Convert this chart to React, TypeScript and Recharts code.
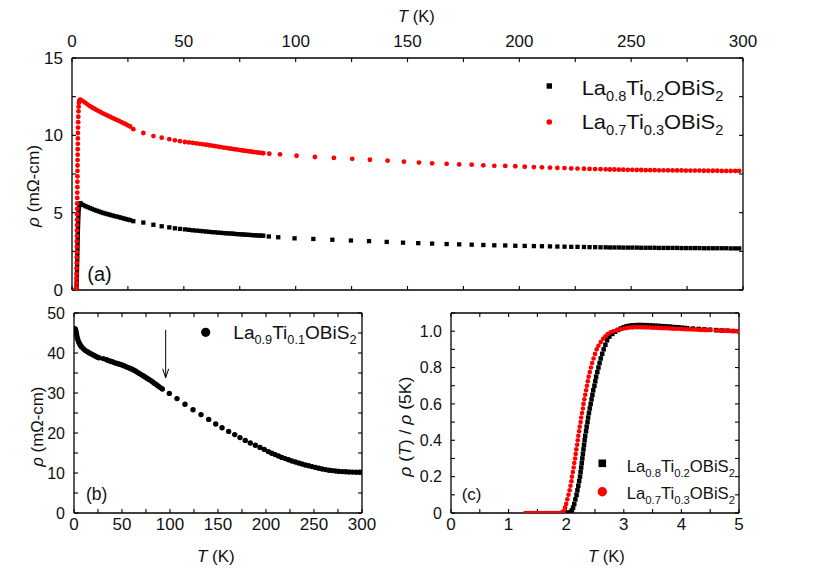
import React from 'react';
import { ScatterChart, Scatter, XAxis, YAxis, ReferenceLine, ReferenceDot, Legend } from 'recharts';

const FONT = '"Liberation Sans", Arial, Helvetica, sans-serif';
const INK = '#111';
const RED = '#ff0000';

// ---------- Panel (a): rho (mOhm-cm) vs T (K) ----------
const rhoA_La08Ti02: number[][] = [
  [2.0,0],[2.05,0.2],[2.1,0.45],[2.14,0.7],[2.18,0.95],[2.22,1.2],[2.26,1.45],[2.3,1.7],[2.34,1.95],[2.38,2.2],[2.42,2.45],[2.46,2.7],[2.5,2.95],[2.54,3.2],[2.58,3.45],[2.62,3.7],[2.67,3.95],[2.72,4.2],[2.78,4.45],[2.85,4.7],[2.93,4.95],[3.03,5.2],[3.15,5.4],[3.4,5.55],[3.7,5.6],
  [4,5.58],[5,5.5],[6,5.42],[7,5.36],[8,5.3],[9,5.24],[10,5.18],[11,5.13],[12,5.08],[13,5.03],[14,4.98],[15,4.94],[16,4.9],[17,4.86],[18,4.82],[19,4.78],[20,4.75],[21,4.71],[22,4.67],[23,4.63],[24,4.59],[25,4.55],[26,4.52],
  [27.4,4.45],[31.9,4.36],[36.4,4.22],[40.1,4.12],[43.5,4.05],[46,3.99],[48.3,3.95],[50.5,3.92],
  [52.3,3.89],[54,3.86],[55.6,3.84],[57.1,3.82],[58.6,3.8],[60,3.78],[61.4,3.76],[62.7,3.74],[64,3.73],[65.3,3.71],[66.5,3.7],[67.7,3.68],[68.9,3.67],[70,3.66],[71.1,3.65],[72.2,3.64],[73.3,3.62],[74.4,3.61],[75.5,3.6],[76.5,3.59],[77.5,3.58],[78.5,3.57],[79.5,3.56],[80.5,3.55],[81.5,3.54],[82.5,3.53],[83.5,3.52],[84.5,3.52],[85.5,3.51],
  [88,3.46],[92.2,3.41],[99.5,3.34],[107.9,3.3],[116.4,3.25],[124.7,3.2],[132.8,3.16],[140.7,3.11],[148,3.06],[154.8,3.03],[161,3.0],[167.5,2.97],[173.1,2.95],[178.7,2.93],[183.9,2.91],[188.8,2.89],[193.7,2.88],[198.2,2.86],[202.4,2.85],[206.5,2.84],[210.1,2.83],[213.7,2.82],[217,2.81],[220.2,2.8],[223.2,2.79],[226,2.79],[228.9,2.78],[231.4,2.77],[233.9,2.77],[236.3,2.76],[238.6,2.76],
  [240.5,2.75],[242.5,2.75],[244.5,2.75],[246.5,2.74],[248.5,2.74],[250.5,2.74],[252.5,2.74],[254.5,2.73],[256.5,2.73],[258.5,2.73],[260.5,2.73],[262.5,2.72],[264.5,2.72],[266.5,2.72],[268.5,2.72],[270.5,2.72],[272.5,2.71],[274.5,2.71],[276.5,2.71],[278.5,2.71],[280.5,2.71],[282.5,2.7],[284.5,2.7],[286.5,2.7],[288.5,2.7],[290.5,2.7],[292.5,2.7],[294.5,2.69],[296.5,2.69],[298.3,2.69],
];

const rhoA_La07Ti03: number[][] = [
  [1.3,0],[1.45,0],[1.6,0],[1.75,0],[1.9,0],[1.98,0.15],[2.02,0.45],[2.05,0.75],[2.07,1.05],[2.09,1.4],[2.11,1.75],[2.13,2.1],[2.15,2.45],[2.17,2.8],[2.19,3.15],[2.21,3.5],[2.23,3.85],[2.25,4.2],[2.27,4.55],[2.29,4.9],[2.31,5.25],[2.33,5.6],[2.35,5.95],[2.37,6.3],[2.39,6.65],[2.41,7.0],[2.43,7.35],[2.45,7.7],[2.47,8.05],[2.5,8.4],[2.53,8.75],[2.56,9.1],[2.59,9.45],[2.62,9.8],[2.66,10.15],[2.7,10.5],[2.75,10.85],[2.81,11.2],[2.88,11.55],[2.97,11.85],[3.1,12.1],[3.3,12.25],[3.6,12.3],
  [4,12.28],[5,12.2],[6,12.1],[7,11.99],[8,11.89],[9,11.8],[10,11.72],[11,11.64],[12,11.56],[13,11.48],[14,11.41],[15,11.34],[16,11.27],[17,11.2],[18,11.13],[19,11.06],[20,11.0],[21,10.93],[22,10.86],[23,10.79],[24,10.72],[25,10.64],[26,10.57],
  [27.4,10.4],[31.9,10.15],[36.4,9.95],[40.1,9.85],[43.5,9.75],[46,9.68],[48.3,9.62],[50.5,9.57],
  [52.3,9.54],[54,9.51],[55.6,9.48],[57.1,9.45],[58.6,9.42],[60,9.39],[61.4,9.36],[62.7,9.33],[64,9.3],[65.3,9.27],[66.5,9.24],[67.7,9.21],[68.9,9.19],[70,9.16],[71.1,9.14],[72.2,9.11],[73.3,9.09],[74.4,9.06],[75.5,9.04],[76.5,9.02],[77.5,9.0],[78.5,8.98],[79.5,8.96],[80.5,8.94],[81.5,8.92],[82.5,8.9],[83.5,8.88],[84.5,8.86],[85.5,8.84],
  [88.2,8.81],[93,8.77],[100.4,8.68],[108.6,8.6],[117.1,8.54],[125.3,8.48],[133.2,8.42],[141.1,8.36],[148.4,8.3],[155.1,8.24],[161,8.19],[167.5,8.16],[173.1,8.12],[178.7,8.1],[183.9,8.06],[188.8,8.03],[193.7,8.02],[198.2,8.0],[202.4,7.97],[206.5,7.95],[210.1,7.93],[213.7,7.91],[217,7.89],[220.2,7.88],[223.2,7.86],[226,7.85],[228.9,7.84],[231.4,7.83],[233.9,7.82],[236.3,7.81],[238.6,7.8],
  [240.5,7.79],[242.5,7.79],[244.5,7.78],[246.5,7.78],[248.5,7.77],[250.5,7.77],[252.5,7.76],[254.5,7.76],[256.5,7.75],[258.5,7.75],[260.5,7.75],[262.5,7.74],[264.5,7.74],[266.5,7.74],[268.5,7.73],[270.5,7.73],[272.5,7.73],[274.5,7.72],[276.5,7.72],[278.5,7.72],[280.5,7.72],[282.5,7.71],[284.5,7.71],[286.5,7.71],[288.5,7.71],[290.5,7.7],[292.5,7.7],[294.5,7.7],[296.5,7.7],[298.3,7.7],
];

// ---------- Panel (b): La0.9Ti0.1OBiS2 ----------
const rhoB_La09Ti01: number[][] = [
  [1.0,46.1],[1.4,45.9],[1.8,45.6],[2.3,45.1],[2.8,44.5],[3.3,43.9],[4,43.3],[5,42.7],[6,42.2],[7,41.8],[8,41.5],[10,41.0],[12,40.6],[14,40.3],[16,40.0],[18,39.75],[20,39.5],[22,39.25],[24,39.0],[26,38.8],
  [30.5,38.6],
  [34,38.3],[36,38.1],[38,37.95],[40,37.8],[42,37.6],[44,37.45],[46,37.3],[48,37.15],[50,37.0],[52,36.8],[54,36.6],[56,36.4],[58,36.2],[60,36.0],[62,35.75],[64,35.5],[66,35.2],[68,34.9],[70,34.6],[72,34.3],[74,34.0],[76,33.7],[78,33.4],[80,33.1],[82,32.75],[84,32.4],[86,32.05],[88,31.7],[90,31.35],[92,31.0],
  [99.3,29.9],[107.3,28.6],[115.6,27.2],[124,25.8],[132.3,24.6],[140.3,23.4],[147.6,22.25],[154.2,21.3],[161.1,20.4],[167.4,19.6],[172.9,18.85],[178.4,18.15],[183.6,17.5],[188.9,16.95],[193.75,16.4],[198.2,15.9],[202.4,15.35],
  [206,14.95],[209.5,14.6],[213,14.25],[216.5,13.9],[220,13.6],[223.5,13.3],[227,13.0],[230.5,12.75],[234,12.5],[237.5,12.25],[241,12.0],[244.5,11.8],[248,11.6],[251.5,11.4],[255,11.2],[258.5,11.0],[262,10.85],[265.5,10.7],[269,10.6],[272.5,10.5],[276,10.4],[279.5,10.35],[283,10.3],[286.5,10.25],[290,10.22],[293.5,10.2],[297,10.18],[299.5,10.17],
];
const arrowB = { t: 95.5, from: 45.8, to: 33.8 };

// ---------- Panel (c): rho(T)/rho(5K) ----------
const normC_La08Ti02: number[][] = [
  [1.98,0],[2.02,0],[2.05,0.002],[2.08,0.006],[2.1,0.015],
  [2.12,0.03],[2.14,0.05],[2.16,0.075],[2.18,0.1],[2.195,0.125],[2.21,0.15],[2.225,0.175],[2.24,0.2],[2.25,0.225],[2.26,0.25],[2.27,0.275],[2.28,0.3],[2.29,0.325],[2.3,0.35],[2.31,0.375],[2.32,0.4],[2.33,0.425],[2.345,0.45],[2.355,0.475],[2.37,0.5],[2.38,0.525],[2.395,0.55],[2.41,0.575],[2.425,0.6],[2.44,0.625],[2.455,0.65],[2.47,0.675],[2.49,0.7],[2.505,0.725],[2.52,0.75],[2.54,0.775],[2.56,0.8],[2.58,0.825],[2.6,0.85],[2.625,0.875],[2.65,0.9],[2.68,0.925],[2.71,0.95],[2.75,0.97],[2.8,0.985],[2.85,0.997],[2.9,1.007],[2.95,1.015],
  [3.0,1.022],[3.05,1.027],[3.1,1.03],[3.15,1.032],[3.2,1.033],[3.25,1.034],[3.3,1.034],[3.35,1.033],[3.4,1.033],[3.45,1.032],[3.5,1.031],[3.55,1.03],[3.6,1.029],[3.65,1.028],[3.7,1.027],[3.75,1.026],[3.8,1.025],[3.85,1.023],[3.9,1.022],[3.95,1.021],[4.0,1.019],[4.05,1.018],[4.1,1.016],[4.2,1.014],[4.3,1.012],[4.4,1.01],[4.5,1.008],[4.6,1.006],[4.7,1.004],[4.8,1.003],[4.9,1.001],[5.0,1.0],
];

const normC_La07Ti03: number[][] = [
  [1.29,0],[1.33,0],[1.37,0],[1.41,0],[1.45,0],[1.49,0],[1.53,0],[1.57,0],[1.61,0],[1.65,0],[1.69,0],[1.73,0],[1.77,0],[1.81,0],[1.85,0],[1.89,0],[1.92,0.002],
  [1.95,0.01],[1.98,0.03],[2.0,0.05],[2.02,0.075],[2.04,0.1],[2.06,0.125],[2.075,0.15],[2.09,0.175],[2.1,0.2],[2.115,0.225],[2.13,0.25],[2.14,0.275],[2.155,0.3],[2.165,0.325],[2.175,0.35],[2.19,0.375],[2.2,0.4],[2.21,0.425],[2.225,0.45],[2.235,0.475],[2.25,0.5],[2.26,0.525],[2.275,0.55],[2.29,0.575],[2.3,0.6],[2.315,0.625],[2.33,0.65],[2.345,0.675],[2.36,0.7],[2.375,0.725],[2.39,0.75],[2.41,0.775],[2.43,0.8],[2.45,0.825],[2.475,0.85],[2.5,0.875],[2.53,0.9],[2.56,0.92],[2.6,0.94],[2.64,0.958],[2.68,0.972],[2.72,0.984],[2.77,0.994],[2.82,1.0],[2.88,1.006],[2.94,1.011],
  [3.0,1.015],[3.05,1.018],[3.1,1.02],[3.15,1.021],[3.2,1.022],[3.25,1.022],[3.3,1.022],[3.35,1.021],[3.4,1.021],[3.45,1.02],[3.5,1.019],[3.55,1.019],[3.6,1.018],[3.65,1.017],[3.7,1.016],[3.75,1.016],[3.8,1.015],[3.85,1.014],[3.9,1.013],[3.95,1.013],[4.0,1.012],[4.05,1.011],[4.1,1.011],[4.15,1.01],[4.2,1.009],[4.25,1.009],[4.3,1.008],[4.35,1.007],[4.4,1.007],[4.45,1.006],[4.5,1.006],
  [4.6,1.004],[4.65,1.004],[4.7,1.003],[4.75,1.003],[4.8,1.002],[4.85,1.001],[4.9,1.001],[4.95,1.0],[5.0,1.0],
];

// ---------- ticks & labels ----------
const xTicksAB = [0,25,50,75,100,125,150,175,200,225,250,275,300];
const xLabelsAB = [0,50,100,150,200,250,300];
const yTicksA = [0,2.5,5,7.5,10,12.5,15];
const yLabelsA = [0,5,10,15];
const yTicksB = [0,5,10,15,20,25,30,35,40,45,50];
const yLabelsB = [0,10,20,30,40,50];
const xTicksC = [0,0.5,1,1.5,2,2.5,3,3.5,4,4.5,5];
const xLabelsC = [0,1,2,3,4,5];
const yTicksC = [0,0.1,0.2,0.3,0.4,0.5,0.6,0.7,0.8,0.9,1.0,1.1];
const yLabelsC: Record<string,string> = { '0': '0', '0.2': '0.2', '0.4': '0.4', '0.6': '0.6', '0.8': '0.8', '1': '1.0' };

const nameA1 = ['La', '0.8', 'Ti', '0.2', 'OBiS', '2'];
const nameA2 = ['La', '0.7', 'Ti', '0.3', 'OBiS', '2'];
const nameB = ['La', '0.9', 'Ti', '0.1', 'OBiS', '2'];

const toPts = (arr: number[][]) => arr.map(([t, r]) => ({ t, r }));

const square = (s: number, fill: string) => (p: any) => (
  <rect x={p.cx - s / 2} y={p.cy - s / 2} width={s} height={s} fill={fill} />
);
const dot = (rad: number, fill: string) => (p: any) => (
  <circle cx={p.cx} cy={p.cy} r={rad} fill={fill} />
);

const axisLine = { stroke: '#000', strokeWidth: 1.3 };
const tickLine = { stroke: '#000', strokeWidth: 1.1 };
const tickStyle = (fs: number) => ({ fill: INK, fontSize: fs, fontFamily: FONT });
const blank = () => '';
const pick = (list: number[]) => (v: number) => (list.some((x) => Math.abs(x - v) < 1e-9) ? String(v) : '');

function Formula({ x, y, parts, size, sub, shift, len }: any) {
  return (
    <text x={x} y={y} fontSize={size} fontFamily={FONT} fill={INK} textLength={len} lengthAdjust="spacingAndGlyphs">
      {parts.map((p: string, i: number) =>
        i % 2 === 0 ? (
          <tspan key={i} fontSize={size} dy={i === 0 ? 0 : -shift}>{p}</tspan>
        ) : (
          <tspan key={i} fontSize={sub} dy={shift}>{p}</tspan>
        )
      )}
    </text>
  );
}

const LegendA = () => (
  <svg width={210} height={85} style={{ overflow: 'visible' }}>
    <rect x={19.3 - 2.7} y={26 - 2.7} width={5.4} height={5.4} fill="#000" />
    <Formula x={51.7} y={35} parts={nameA1} size={21} sub={14} shift={6} len={141.6} />
    <circle cx={19.3} cy={62} r={2.8} fill={RED} />
    <Formula x={51.7} y={69.3} parts={nameA2} size={21} sub={14} shift={6} len={141.6} />
  </svg>
);

const LegendB = () => (
  <svg width={180} height={35} style={{ overflow: 'visible' }}>
    <circle cx={10.7} cy={14.3} r={4.6} fill="#000" />
    <Formula x={38.3} y={21.3} parts={nameB} size={18} sub={12} shift={5} len={123.3} />
  </svg>
);

const LegendC = () => (
  <svg width={160} height={60} style={{ overflow: 'visible' }}>
    <rect x={12.3 - 3.8} y={11.3 - 3.8} width={7.6} height={7.6} fill="#000" />
    <Formula x={36.7} y={19.7} parts={nameA1} size={17} sub={11.5} shift={5} len={108.3} />
    <circle cx={12.3} cy={39.7} r={4.7} fill={RED} />
    <Formula x={36.7} y={47.3} parts={nameA2} size={17} sub={11.5} shift={5} len={108.3} />
  </svg>
);

const ArrowHead = (p: any) => (
  <polyline points={`${p.cx - 3},${p.cy - 9} ${p.cx},${p.cy} ${p.cx + 3},${p.cy - 9}`} fill="none" stroke="#000" strokeWidth={1} />
);

const common = { axisLine, tickLine, interval: 0 as const, allowDataOverflow: true, type: 'number' as const, tickSize: -4 };

function PanelA() {
  return (
    <ScatterChart width={822} height={300} margin={{ top: 28, right: 69, bottom: 5, left: 32 }}>
      <XAxis {...common} xAxisId="top" orientation="top" dataKey="t" domain={[0, 300]} ticks={xTicksAB} height={30} tickMargin={15} tickFormatter={pick(xLabelsAB)} tick={tickStyle(17)} />
      <XAxis {...common} xAxisId="bottom" orientation="bottom" dataKey="t" domain={[0, 300]} ticks={xTicksAB} height={5} tickFormatter={blank} />
      <YAxis {...common} yAxisId="left" orientation="left" dataKey="r" domain={[0, 15]} ticks={yTicksA} width={40} tickMargin={13} tickFormatter={pick(yLabelsA)} tick={tickStyle(17)} />
      <YAxis {...common} yAxisId="right" orientation="right" dataKey="r" domain={[0, 15]} ticks={yTicksA} width={10} tickFormatter={blank} />
      <Scatter xAxisId="top" yAxisId="left" name="La0.8Ti0.2OBiS2" data={toPts(rhoA_La08Ti02)} shape={square(4.3, '#000')} isAnimationActive={false} />
      <Scatter xAxisId="top" yAxisId="left" name="La0.7Ti0.3OBiS2" data={toPts(rhoA_La07Ti03)} shape={dot(2.4, RED)} isAnimationActive={false} />
      <Legend layout="horizontal" verticalAlign="middle" align="center" content={LegendA} wrapperStyle={{ left: 530, top: 60, width: 210, height: 85 }} />
    </ScatterChart>
  );
}

function PanelB() {
  return (
    <ScatterChart width={400} height={275} margin={{ top: 8, right: 33, bottom: 32, left: 34 }}>
      <XAxis {...common} xAxisId="bottom" orientation="bottom" dataKey="t" domain={[0, 300]} ticks={xTicksAB} height={30} tickMargin={9} tickFormatter={pick(xLabelsAB)} tick={tickStyle(17)} />
      <XAxis {...common} xAxisId="top" orientation="top" dataKey="t" domain={[0, 300]} ticks={xTicksAB} height={5} tickFormatter={blank} />
      <YAxis {...common} yAxisId="left" orientation="left" dataKey="r" domain={[0, 50]} ticks={yTicksB} width={40} tickMargin={13} tickFormatter={pick(yLabelsB)} tick={tickStyle(16)} />
      <YAxis {...common} yAxisId="right" orientation="right" dataKey="r" domain={[0, 50]} ticks={yTicksB} width={5} tickFormatter={blank} />
      <Scatter xAxisId="bottom" yAxisId="left" name="La0.9Ti0.1OBiS2" data={toPts(rhoB_La09Ti01)} shape={dot(2.7, '#000')} isAnimationActive={false} />
      <ReferenceLine xAxisId="bottom" yAxisId="left" segment={[{ x: arrowB.t, y: arrowB.from }, { x: arrowB.t, y: arrowB.to }]} stroke="#000" strokeWidth={1} />
      <ReferenceDot xAxisId="bottom" yAxisId="left" x={arrowB.t} y={arrowB.to} shape={ArrowHead} />
      <Legend layout="horizontal" verticalAlign="middle" align="center" content={LegendB} wrapperStyle={{ left: 195, top: 18, width: 180, height: 35 }} />
    </ScatterChart>
  );
}

function PanelC() {
  return (
    <ScatterChart width={422} height={275} margin={{ top: 8, right: 78, bottom: 32, left: 11 }}>
      <XAxis {...common} xAxisId="bottom" orientation="bottom" dataKey="t" domain={[0, 5]} ticks={xTicksC} height={30} tickMargin={9} tickFormatter={pick(xLabelsC)} tick={tickStyle(17)} />
      <XAxis {...common} xAxisId="top" orientation="top" dataKey="t" domain={[0, 5]} ticks={xTicksC} height={5} tickFormatter={blank} />
      <YAxis {...common} yAxisId="left" orientation="left" dataKey="r" domain={[0, 1.1]} ticks={yTicksC} width={40} tickMargin={13} tickFormatter={(v: number) => yLabelsC[String(Math.round(v * 10) / 10)] ?? ''} tick={tickStyle(16)} />
      <YAxis {...common} yAxisId="right" orientation="right" dataKey="r" domain={[0, 1.1]} ticks={yTicksC} width={5} tickFormatter={blank} />
      <Scatter xAxisId="bottom" yAxisId="left" name="La0.8Ti0.2OBiS2" data={toPts(normC_La08Ti02)} shape={square(4.5, '#000')} isAnimationActive={false} />
      <Scatter xAxisId="bottom" yAxisId="left" name="La0.7Ti0.3OBiS2" data={toPts(normC_La07Ti03)} shape={dot(2.3, RED)} isAnimationActive={false} />
      <Legend layout="horizontal" verticalAlign="middle" align="center" content={LegendC} wrapperStyle={{ left: 190, top: 152, width: 160, height: 60 }} />
    </ScatterChart>
  );
}

function Titles() {
  return (
    <svg width={822} height={575} style={{ position: 'absolute', left: 0, top: 0, pointerEvents: 'none' }} fontFamily={FONT} fill={INK}>
      <text x={398} y={21.5} fontSize={16.5}>
        <tspan fontStyle="italic">T</tspan> (K)
      </text>
      <text x={197} y={561.5} fontSize={17}>
        <tspan fontStyle="italic">T</tspan> (K)
      </text>
      <text x={588} y={561.5} fontSize={16.5}>
        <tspan fontStyle="italic">T</tspan> (K)
      </text>
      <text transform="translate(39,186) rotate(-90)" textAnchor="middle" fontSize={17} textLength={82} lengthAdjust="spacingAndGlyphs">
        <tspan fontStyle="italic">ρ</tspan> (mΩ-cm)
      </text>
      <text transform="translate(43,426.7) rotate(-90)" textAnchor="middle" fontSize={17} textLength={80} lengthAdjust="spacingAndGlyphs">
        <tspan fontStyle="italic">ρ</tspan> (mΩ-cm)
      </text>
      <text transform="translate(411,426.7) rotate(-90)" textAnchor="middle" fontSize={17} textLength={100} lengthAdjust="spacingAndGlyphs">
        <tspan fontStyle="italic">ρ</tspan> (<tspan fontStyle="italic">T</tspan>) / <tspan fontStyle="italic">ρ</tspan> (5K)
      </text>
      <text x={87.3} y={281} fontSize={20}>(a)</text>
      <text x={86} y={500} fontSize={17.5}>(b)</text>
      <text x={461.7} y={500} fontSize={17}>(c)</text>
    </svg>
  );
}

export default function App() {
  return (
    <div style={{ position: 'absolute', left: 0, top: 0, width: 822, height: 575, background: '#fff', fontFamily: FONT }}>
      <div style={{ position: 'absolute', left: 0, top: 0 }}>
        <PanelA />
      </div>
      <div style={{ position: 'absolute', left: 0, top: 300 }}>
        <PanelB />
      </div>
      <div style={{ position: 'absolute', left: 400, top: 300 }}>
        <PanelC />
      </div>
      <Titles />
    </div>
  );
}
